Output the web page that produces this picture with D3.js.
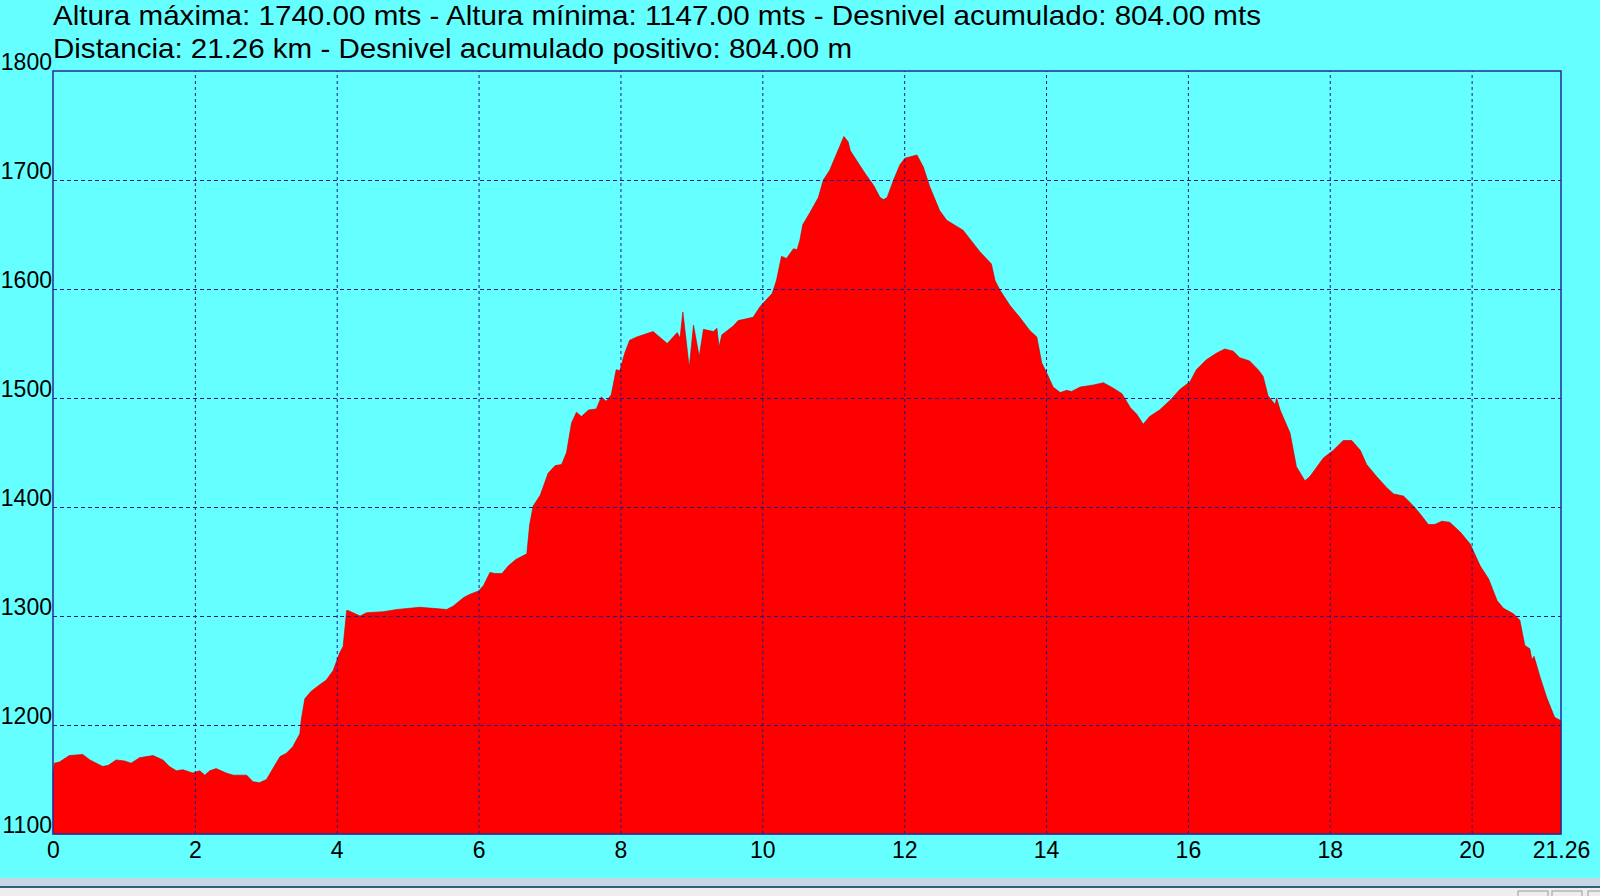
<!DOCTYPE html>
<html>
<head>
<meta charset="utf-8">
<script src="https://cdn.jsdelivr.net/npm/d3@7"></script>
<style>
	html, body { margin: 0; padding: 0; background: #66ffff; }
	svg { display: block; font-family: 'Liberation Sans', Arial, sans-serif; }
</style>
</head>
<body>
<svg id="chart" width="1600" height="896"></svg>
<script>
// profile: distance (km) and height (m)
const distances = [
	0.00, 0.02, 0.09, 0.23, 0.42, 0.52, 0.70, 0.78, 0.89, 1.01, 1.10, 1.22, 1.41, 1.55, 1.64, 1.74,
	1.83, 1.97, 2.07, 2.14, 2.21, 2.30, 2.44, 2.54, 2.73, 2.82, 2.91, 3.01, 3.10, 3.20, 3.29, 3.38,
	3.48, 3.50, 3.55, 3.64, 3.76, 3.85, 3.95, 4.04, 4.09, 4.14, 4.16, 4.33, 4.42, 4.66, 4.85, 5.17,
	5.36, 5.55, 5.64, 5.79, 5.88, 6.00, 6.07, 6.16, 6.23, 6.33, 6.42, 6.53, 6.68, 6.72, 6.77, 6.87,
	6.98, 7.08, 7.17, 7.24, 7.31, 7.38, 7.45, 7.55, 7.66, 7.73, 7.80, 7.87, 7.94, 7.99, 8.06, 8.13,
	8.23, 8.46, 8.66, 8.80, 8.84, 8.88, 8.97, 9.03, 9.11, 9.17, 9.31, 9.36, 9.39, 9.43, 9.59, 9.66,
	9.87, 9.97, 10.14, 10.20, 10.27, 10.34, 10.44, 10.49, 10.53, 10.57, 10.67, 10.79, 10.86, 10.95, 11.15, 11.21,
	11.24, 11.33, 11.45, 11.57, 11.66, 11.71, 11.76, 11.85, 11.94, 12.01, 12.18, 12.27, 12.36, 12.50, 12.60, 12.83,
	13.07, 13.23, 13.28, 13.35, 13.49, 13.63, 13.77, 13.87, 13.94, 14.01, 14.10, 14.20, 14.29, 14.36, 14.48, 14.67,
	14.81, 14.95, 15.07, 15.19, 15.28, 15.37, 15.46, 15.60, 15.75, 15.89, 16.03, 16.12, 16.26, 16.40, 16.52, 16.64,
	16.73, 16.87, 16.99, 17.06, 17.13, 17.23, 17.25, 17.30, 17.44, 17.53, 17.65, 17.72, 17.91, 18.05, 18.19, 18.31,
	18.43, 18.52, 18.66, 18.80, 18.90, 19.04, 19.18, 19.27, 19.39, 19.48, 19.58, 19.69, 19.84, 19.98, 20.12, 20.24,
	20.36, 20.45, 20.59, 20.68, 20.75, 20.82, 20.85, 20.88, 20.97, 21.06, 21.17, 21.26
]
const heights = [
	1157, 1165, 1166, 1172, 1173, 1168, 1162, 1163, 1168, 1167, 1165, 1170, 1172, 1168, 1162, 1158,
	1159, 1156, 1158, 1154, 1158, 1160, 1156, 1154, 1154, 1148, 1147, 1150, 1160, 1171, 1174, 1180,
	1192, 1205, 1224, 1231, 1237, 1241, 1250, 1266, 1272, 1305, 1305, 1300, 1303, 1304, 1306, 1308,
	1307, 1306, 1309, 1317, 1320, 1323, 1328, 1340, 1339, 1339, 1346, 1352, 1357, 1384, 1401, 1411,
	1431, 1438, 1439, 1450, 1477, 1487, 1483, 1489, 1490, 1501, 1497, 1503, 1526, 1525, 1541, 1553,
	1556, 1561, 1550, 1560, 1555, 1579, 1528, 1567, 1538, 1563, 1561, 1564, 1547, 1558, 1566, 1571,
	1574, 1584, 1596, 1608, 1630, 1628, 1637, 1636, 1645, 1659, 1670, 1684, 1700, 1709, 1740, 1735,
	1727, 1718, 1706, 1695, 1684, 1682, 1684, 1700, 1714, 1720, 1723, 1712, 1694, 1672, 1663, 1654,
	1634, 1623, 1608, 1599, 1585, 1574, 1562, 1556, 1532, 1523, 1510, 1505, 1507, 1506, 1510, 1512,
	1514, 1509, 1504, 1491, 1485, 1476, 1483, 1489, 1498, 1508, 1515, 1526, 1535, 1541, 1545, 1543,
	1537, 1534, 1526, 1520, 1502, 1494, 1500, 1489, 1468, 1437, 1424, 1428, 1445, 1452, 1461, 1461,
	1452, 1439, 1428, 1418, 1412, 1410, 1401, 1394, 1384, 1384, 1387, 1386, 1377, 1366, 1346, 1334,
	1314, 1307, 1302, 1296, 1273, 1270, 1260, 1263, 1243, 1225, 1207, 1204
]

const xTicks = [0, 2, 4, 6, 8, 10, 12, 14, 16, 18, 20, 21.26]
const yTicks = [1100, 1200, 1300, 1400, 1500, 1600, 1700, 1800]

const titleLines = [
	'Altura máxima: 1740.00 mts - Altura mínima: 1147.00 mts - Desnivel acumulado: 804.00 mts',
	'Distancia: 21.26 km - Desnivel acumulado positivo: 804.00 m'
]

const profile = distances.map((d, i) => ({ km: d, h: heights[i] }))

const bg = '#66ffff'
const fill = '#ff0000'
const gridColor = '#1a1a8c'
const labelFont = "'Liberation Sans', Arial, sans-serif"

const svg = d3.select('#chart')
const plot = { left: 53, right: 1561, top: 71, bottom: 834 }

const x = d3.scaleLinear().domain([0, 21.26]).range([plot.left, plot.right])
const y = d3.scaleLinear().domain([1100, 1800]).range([plot.bottom, plot.top])

svg.append('rect').attr('width', 1600).attr('height', 896).attr('fill', bg)

// filled profile
const area = d3.area()
	.x(d => x(d.km))
	.y0(y(1100))
	.y1(d => y(d.h))

svg.append('path')
	.datum(profile)
	.attr('d', area)
	.attr('fill', fill)
	.attr('stroke', '#c00000')
	.attr('stroke-width', 0.6)

// dashed grid on top of the fill
const gridX = d3.axisBottom(x)
	.tickValues(xTicks.slice(1, -1))
	.tickSize(-(plot.bottom - plot.top))
	.tickFormat('')
svg.append('g')
	.attr('transform', `translate(0,${plot.bottom})`)
	.call(gridX)
	.call(g => g.select('.domain').remove())
	.call(g => g.selectAll('line')
		.attr('stroke', gridColor)
		.attr('stroke-dasharray', '3,3'))

const gridY = d3.axisLeft(y)
	.tickValues(yTicks.slice(1, -1))
	.tickSize(-(plot.right - plot.left))
	.tickFormat('')
svg.append('g')
	.attr('transform', `translate(${plot.left},0)`)
	.call(gridY)
	.call(g => g.select('.domain').remove())
	.call(g => g.selectAll('line')
		.attr('stroke', gridColor)
		.attr('stroke-dasharray', '4,3'))

svg.append('rect')
	.attr('x', plot.left)
	.attr('y', plot.top)
	.attr('width', plot.right - plot.left)
	.attr('height', plot.bottom - plot.top)
	.attr('fill', 'none')
	.attr('stroke', '#2a2a9a')
	.attr('stroke-width', 1.5)

// axis labels
const axisX = d3.axisBottom(x)
	.tickValues(xTicks)
	.tickSize(0)
	.tickPadding(8)
	.tickFormat(d => (d === 21.26 ? '21.26' : d3.format('d')(d)))
svg.append('g')
	.attr('transform', `translate(0,${plot.bottom})`)
	.call(axisX)
	.call(g => g.select('.domain').remove())
	.call(g => g.selectAll('text')
		.attr('font-family', labelFont)
		.attr('font-size', 23)
		.attr('fill', '#000')
		.attr('dy', '0.71em'))

const axisY = d3.axisLeft(y)
	.tickValues(yTicks)
	.tickSize(0)
	.tickPadding(1)
	.tickFormat(d3.format('d'))
svg.append('g')
	.attr('transform', `translate(${plot.left},0)`)
	.call(axisY)
	.call(g => g.select('.domain').remove())
	.call(g => g.selectAll('text')
		.attr('font-family', labelFont)
		.attr('font-size', 23)
		.attr('fill', '#000')
		.attr('dy', '-0.05em'))

// titles, stretched to the width they take in the original
const titleWidths = [1208, 799]
svg.selectAll('text.title')
	.data(titleLines)
	.enter()
	.append('text')
	.attr('class', 'title')
	.attr('x', 53)
	.attr('y', (d, i) => 25 + i * 33)
	.attr('font-size', 28.5)
	.attr('fill', '#000')
	.attr('textLength', (d, i) => titleWidths[i])
	.attr('lengthAdjust', 'spacingAndGlyphs')
	.text(d => d)

// window status strip at the bottom
svg.append('rect').attr('x', 0).attr('y', 878).attr('width', 1600).attr('height', 8).attr('fill', '#c6d6e6')
svg.append('line').attr('x1', 0).attr('x2', 1600).attr('y1', 887).attr('y2', 887)
	.attr('stroke', '#1c2c48').attr('stroke-width', 1.5)
svg.append('rect').attr('x', 0).attr('y', 888).attr('width', 1600).attr('height', 8).attr('fill', '#eeeeee')
svg.selectAll('rect.btn')
	.data([1518, 1552, 1588])
	.enter()
	.append('rect')
	.attr('class', 'btn')
	.attr('x', d => d)
	.attr('y', 891)
	.attr('width', 30)
	.attr('height', 8)
	.attr('fill', 'none')
	.attr('stroke', '#9a9a9a')
</script>
</body>
</html>
